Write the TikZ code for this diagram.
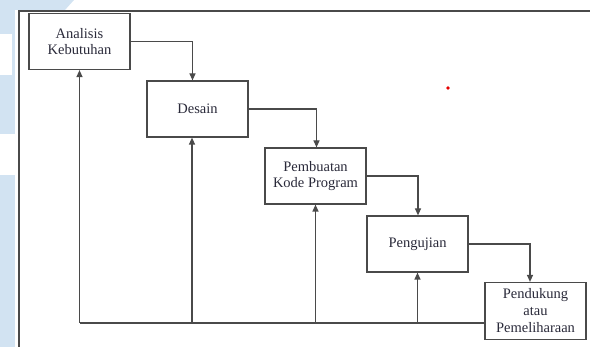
\documentclass[tikz,border=0pt]{standalone}
\usepackage{fontspec}
\setmainfont{Liberation Serif}
\usetikzlibrary{calc,arrows.meta}
\definecolor{wm}{HTML}{D2E3F2}
\definecolor{ln}{HTML}{4A4A4A}
\definecolor{tx}{HTML}{2A2A3A}
\tikzset{
  stagebox/.style={draw=ln, line width=1.2pt, fill=white, minimum width=101pt, minimum height=56pt,
    inner sep=1pt, align=center, text=tx, font=\fontsize{14.5}{16.5}\selectfont},
  flow/.style={draw=ln, line width=1.2pt, -{Triangle[length=7pt,width=6pt]}},
  plain/.style={draw=ln, line width=1.2pt}
}
\begin{document}
\begin{tikzpicture}[x=1pt,y=-1pt]
\useasboundingbox (0,0) rectangle (590,347);
% watermark
\fill[wm] (0,0) -- (74,0) -- (65,10) -- (0,10) -- cycle;
\fill[wm] (0,0) rectangle (15,347);
\fill[white] (0,34) rectangle (12,75);
\fill[white] (0,134) rectangle (15,175);
% frame
\draw[ln, line width=1.6pt] (19,347) -- (19,11) -- (590,11);
% red dot
\fill[red!90!black] (448,88) circle (1.8);
% stages
\node[stagebox] (b1) at (79.5,41.5) {Analisis\\Kebutuhan};
\node[stagebox] (b2) at (197.5,109) {Desain};
\node[stagebox] (b3) at (315.5,176) {Pembuatan\\Kode Program};
\node[stagebox] (b4) at (417.5,244) {Pengujian};
\node[stagebox, minimum height=57pt, font=\fontsize{14.5}{17}\selectfont] (b5) at (535.5,311) {Pendukung\\atau\\Pemeliharaan};
% forward flow
\draw[flow] (b1.east) -| ($(b2.north)+(-5,0)$);
\draw[flow] (b2.east) -| ($(b3.north)+(1,0)$);
\draw[flow] ($(b3.east)+(0,0)$) -| ($(b4.north)+(0.5,0)$);
\draw[flow] (b4.east) -| ($(b5.north)+(-5.5,0)$);
% feedback
\coordinate (fb) at ($(b5.west)+(0,12)$);
\coordinate (c1) at (b1.south |- fb);
\coordinate (c2) at ($(b2.south |- fb)+(-5.5,0)$);
\coordinate (c3) at (b3.south |- fb);
\coordinate (c4) at (b4.south |- fb);
\draw[plain] (fb) -- (c1);
\draw[flow] (c1) -- (b1.south);
\draw[flow] (c2) -- ($(b2.south)+(-5.5,0)$);
\draw[flow] (c3) -- (b3.south);
\draw[flow] (c4) -- (b4.south);
\end{tikzpicture}
\end{document}
